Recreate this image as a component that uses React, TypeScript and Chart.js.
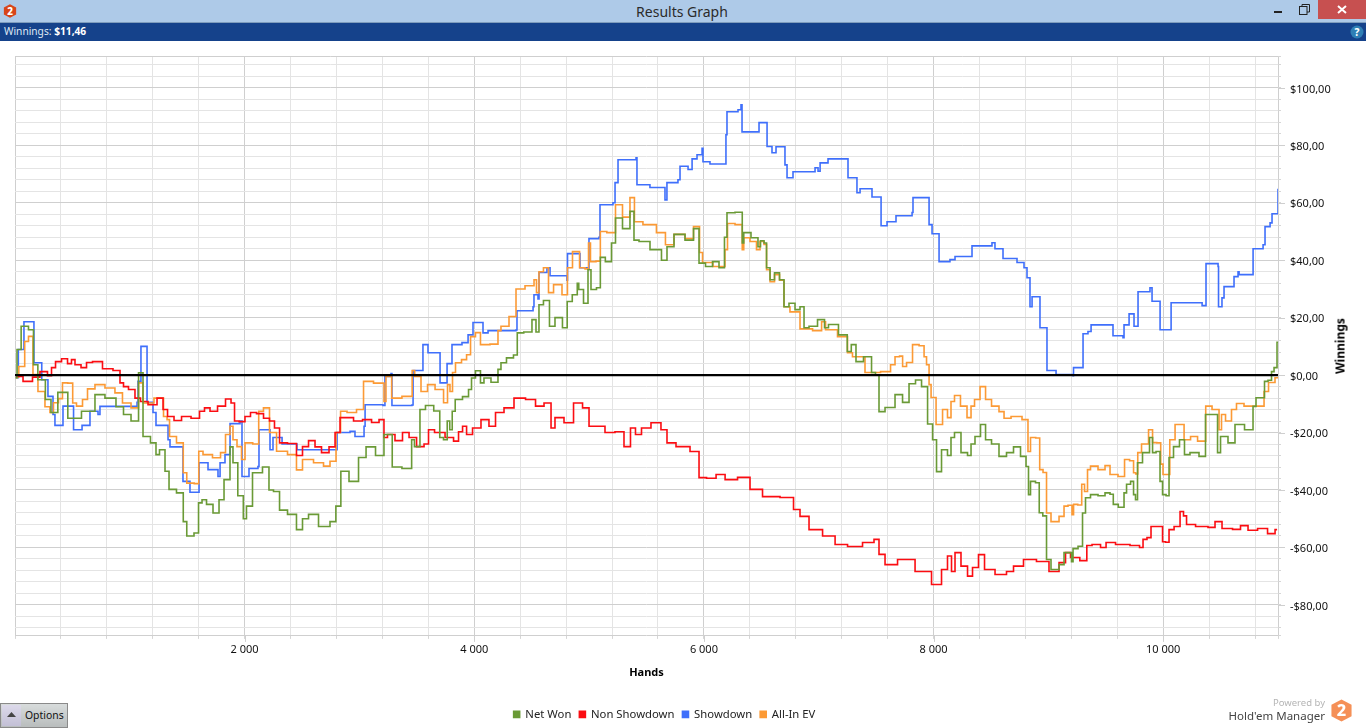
import React, { useEffect, useRef } from "react";
import { Chart, registerables } from "chart.js";

Chart.register(...registerables);

type Pt = [number, number];

// [hand number, winnings in dollars] at each corner of the running total
const netWon: Pt[] = [
  [6,-0.9],[29,8.9],[78,17],[157,15.8],[165,3.6],[233,-1.6],[296,-8.5],[331,-13],[415,-6],[505,-15],[653,-12.6],[740,-6.8],[827,-8],[932,-11],[958,-13.7],[1063,-16],[1089,0.8],[1141,-21.4],[1219,-23.6],[1237,-27.7],[1280,-26],[1333,-33.5],[1350,-39.8],[1463,-41],[1468,-51],[1524,-56],[1594,-55],[1603,-44.5],[1655,-43.4],[1681,-45],[1768,-48],[1786,-43.4],[1855,-36.4],[1890,-25],[1907,-30.5],[1974,-42],[2003,-50],[2029,-45.6],[2108,-34],[2203,-32],[2221,-40],[2282,-40.5],[2326,-47],[2421,-48.5],[2482,-53.8],[2526,-50],[2587,-48.5],[2700,-52.7],[2787,-51],[2802,-45.6],[2874,-33.5],[2944,-37],[3040,-28.7],[3075,-25],[3205,-28],[3222,-20.7],[3283,-20.7],[3288,-32],[3452,-32.5],[3457,-22.5],[3501,-24.9],[3553,-12],[3597,-10.6],[3697,-12.5],[3702,-21.7],[3762,-22.5],[3767,-16],[3806,-19],[3810,-12.6],[3858,-8.5],[3937,-7.5],[3963,-5],[3989,-1],[4032,1.5],[4076,-2.7],[4093,-1],[4198,-2.5],[4215,2],[4250,4.3],[4311,6],[4372,7],[4377,14.7],[4485,15],[4520,19.3],[4555,15],[4572,24.5],[4633,26],[4677,17],[4729,20],[4807,16.5],[4812,25.6],[4895,28],[4899,32],[4921,29.8],[4982,25],[4999,36.7],[5034,29.8],[5095,30.4],[5101,41],[5182,39.5],[5208,46],[5252,54.7],[5330,51],[5382,57],[5400,47],[5470,46.5],[5591,43.7],[5670,40],[5687,44.7],[5792,49],[5879,47],[5940,51],[5975,39],[6053,37.8],[6097,39.5],[6166,37.4],[6192,48],[6210,56.5],[6332,56.7],[6336,46],[6358,49.6],[6462,47.8],[6480,44.7],[6506,46.8],[6541,46],[6550,37.4],[6602,33.2],[6628,35.6],[6689,33.2],[6706,23.8],[6776,25],[6811,22.8],[6863,23.8],[6881,16.5],[6950,17],[7029,19.3],[7072,16.5],[7098,17.6],[7246,14],[7251,8.2],[7316,10.6],[7333,4.7],[7447,6.4],[7473,0.9],[7516,0],[7534,-12.7],[7621,-11.3],[7708,-6.8],[7752,-9.5],[7821,-3],[7865,-1.7],[7926,-4],[7970,-17],[8013,-22.5],[8039,-33.6],[8100,-26],[8143,-28],[8161,-21.7],[8204,-20],[8274,-27],[8318,-28],[8335,-24],[8387,-21.4],[8431,-17.2],[8475,-22.5],[8535,-24],[8605,-28.3],[8666,-27],[8727,-25],[8788,-28.3],[8823,-31.8],[8831,-41.6],[8858,-37],[8918,-37.5],[8923,-47.9],[8980,-49],[8988,-64.2],[9058,-67.7],[9128,-66],[9145,-61.8],[9197,-61.8],[9206,-65],[9224,-60.4],[9293,-59.6],[9302,-48],[9345,-42.7],[9389,-41.6],[9476,-42],[9511,-41],[9563,-41.5],[9568,-45],[9650,-46],[9668,-41],[9694,-38],[9738,-37],[9746,-41.6],[9772,-43.4],[9781,-30.5],[9859,-27],[9903,-21.7],[9912,-27],[9964,-26.6],[9981,-37],[10008,-41.6],[10042,-42],[10060,-28.7],[10120,-24.9],[10164,-22.5],[10207,-27.7],[10260,-27],[10364,-28.3],[10373,-13.7],[10469,-13.7],[10478,-27],[10521,-21.4],[10608,-23.6],[10643,-17.2],[10774,-19],[10791,-10.9],[10826,-7.9],[10878,-7.9],[10887,-2.2],[10939,-1.8],[10948,1.2],[10983,2.6],[11000,11.46],
];

const nonShowdown: Pt[] = [
  [9,-0.5],[131,-2.2],[174,-0.7],[261,1.2],[305,-0.2],[331,2.6],[375,4.7],[436,5.7],[479,4],[505,5.4],[540,3.6],[610,2.6],[636,4.4],[714,4.7],[810,2.2],[897,1.6],[932,-2.7],[958,-4],[1019,-5],[1071,-8],[1115,-9.2],[1202,-10.3],[1272,-8],[1307,-12],[1350,-14.4],[1420,-15.8],[1481,-14.4],[1585,-15],[1629,-12.6],[1672,-11.4],[1725,-12.6],[1803,-10.8],[1864,-8.3],[1899,-9.7],[1925,-16],[1977,-16.2],[2029,-14.4],[2073,-13],[2134,-13.4],[2195,-15],[2238,-16],[2282,-18.4],[2326,-23.6],[2421,-23.8],[2482,-28],[2526,-24.9],[2587,-22.8],[2639,-25],[2700,-27],[2770,-25],[2805,-20],[2857,-14.8],[2918,-14.8],[2979,-16],[3075,-15.5],[3136,-16.5],[3205,-15.5],[3222,-21.7],[3266,-20.7],[3353,-22.8],[3397,-20],[3467,-21.7],[3528,-24.9],[3597,-24],[3606,-19],[3702,-20],[3789,-21.7],[3850,-23],[3876,-19.7],[3920,-17.8],[3946,-20.7],[4024,-18.4],[4093,-15.5],[4163,-17.8],[4207,-13],[4311,-11.4],[4381,-8],[4512,-8.5],[4555,-10.8],[4660,-9.7],[4677,-18.4],[4729,-14.8],[4834,-16.6],[4895,-9.7],[4991,-11.4],[5008,-17.8],[5095,-17.8],[5182,-20],[5269,-19.7],[5339,-24.9],[5382,-18.4],[5426,-20.7],[5487,-18.4],[5591,-16.6],[5661,-19],[5696,-23.6],[5818,-24.9],[5940,-26.6],[5975,-35.7],[6071,-35.9],[6141,-34.6],[6228,-36.4],[6358,-35.6],[6445,-39.8],[6576,-42.3],[6750,-42.6],[6811,-46.8],[6863,-49.2],[6968,-53.8],[7099,-56],[7186,-59],[7316,-59.7],[7447,-58.3],[7516,-57.2],[7534,-62.4],[7621,-66],[7752,-64.2],[7926,-68.4],[8039,-72.9],[8100,-67.7],[8143,-63],[8170,-68.4],[8204,-61.8],[8274,-66.5],[8318,-70],[8361,-67],[8422,-62.5],[8466,-67.7],[8605,-69.4],[8666,-68.4],[8727,-66.5],[8840,-64.2],[8953,-64.9],[9058,-68.4],[9128,-65.3],[9171,-61.8],[9215,-63.5],[9333,-64.6],[9337,-59.3],[9424,-59],[9485,-60],[9520,-58.3],[9650,-59],[9772,-59.3],[9816,-60],[9833,-57.2],[9885,-56.6],[9903,-52.7],[9990,-52.7],[9999,-58],[10042,-58.2],[10060,-53.8],[10130,-52.7],[10164,-47.5],[10190,-49],[10217,-52],[10347,-52.7],[10434,-53],[10469,-51],[10556,-53.4],[10652,-53.7],[10695,-52.4],[10783,-54],[10861,-53.4],[10957,-55.2],[10992,-53.8],
];

const showdown: Pt[] = [
  [6,-0.9],[29,8.9],[78,18.6],[165,4.3],[233,-1.6],[287,-7.4],[331,-13.7],[348,-17.5],[418,-10.8],[510,-19],[584,-17.5],[653,-12.6],[723,-13.7],[740,-10.9],[1063,-9.5],[1071,-2.2],[1097,10],[1150,-9.5],[1202,-13],[1228,-17.5],[1333,-22.5],[1350,-25],[1463,-37],[1524,-40.8],[1603,-30.5],[1681,-32.9],[1768,-35.3],[1786,-30.5],[1829,-27.7],[1873,-16.9],[1960,-16],[1977,-35.3],[2038,-32.5],[2116,-31.8],[2125,-19],[2221,-26],[2247,-21.7],[2326,-24],[2456,-26],[2805,-20],[2918,-19.6],[2961,-21.4],[3040,-17.8],[3049,-10.3],[3205,-10.6],[3222,-0.5],[3275,0.5],[3283,-10.6],[3457,-10.4],[3467,1.6],[3553,10.6],[3597,7.8],[3702,-2.7],[3763,4],[3806,10.6],[3893,11.3],[3946,14],[3989,18.3],[4076,14.7],[4120,15.5],[4363,15.7],[4372,22.4],[4512,23.8],[4520,28],[4555,26.5],[4564,35.7],[4633,37.4],[4660,34.6],[4807,33],[4812,42.3],[4921,37.4],[4991,37],[4999,47.5],[5086,48],[5095,59.3],[5208,60],[5226,67],[5252,75],[5409,75.7],[5417,66.3],[5530,65.3],[5661,61],[5678,67],[5774,68],[5792,72.7],[5862,71.6],[5897,75.3],[5940,76.7],[5984,79],[5992,74.3],[6053,73.5],[6192,83.7],[6201,91.7],[6297,92.4],[6323,94.1],[6332,84.7],[6480,87.9],[6550,79.6],[6593,77.4],[6628,79.5],[6706,73.2],[6724,68.7],[6776,70.8],[6968,72.2],[6994,71],[7012,73.9],[7081,75.3],[7255,68.7],[7333,63.5],[7360,64.9],[7464,62],[7543,52],[7595,53.4],[7673,55.5],[7813,56.6],[7821,61.8],[7961,52.4],[7987,49.2],[8048,39.5],[8143,40.2],[8187,41.3],[8335,45],[8509,46.1],[8535,44],[8605,40.6],[8727,39.2],[8788,37.4],[8814,33.9],[8840,23.8],[8858,27.3],[8927,16.5],[8988,1.6],[9067,0.2],[9215,-0.2],[9219,2.6],[9302,14.4],[9345,15.2],[9372,17.5],[9563,13.7],[9650,13],[9659,17.5],[9703,21.3],[9746,17],[9781,29],[9885,30.4],[9903,25.7],[9973,15.8],[10069,25.2],[10339,24.2],[10373,38.8],[10478,37.8],[10482,23.8],[10512,26.9],[10530,30.8],[10617,34.3],[10652,36],[10661,35],[10783,44],[10870,45.4],[10887,51.7],[10931,53],[10948,56.2],[11000,64.9],
];

const allInEv: Pt[] = [
  [6,-0.9],[30,-0.6],[35,3],[82,3],[87,11.7],[148,13.5],[165,0.2],[235,-5.7],[287,-11],[322,-13],[348,-9.6],[409,-8.2],[418,-2.7],[500,-2.8],[505,-9.7],[566,-10.8],[610,-8.5],[653,-4.8],[740,-3.3],[827,-4.5],[914,-6.2],[958,-9.7],[1063,-11.4],[1089,-2.7],[1141,-9.7],[1280,-8],[1307,-14.4],[1342,-15.5],[1350,-21.4],[1463,-23.6],[1468,-34],[1524,-37.6],[1598,-37.8],[1603,-26.5],[1672,-27.7],[1768,-28.8],[1812,-27],[1855,-20.7],[1890,-17.8],[1907,-22.5],[1960,-24.9],[1986,-29.4],[2021,-23.6],[2120,-24],[2125,-12.6],[2203,-11.4],[2230,-20],[2326,-26.5],[2421,-27.7],[2482,-33],[2526,-29.4],[2674,-30.5],[2700,-31.7],[2787,-30],[2805,-20],[2866,-12.6],[2918,-13],[3031,-12],[3040,-2.2],[3205,-2.8],[3222,-9.2],[3240,-0.5],[3278,-0.5],[3283,-8],[3457,-7.4],[3461,1.6],[3501,-0.5],[3571,-5.7],[3615,-3.3],[3702,-5],[3763,-9.6],[3771,-3.3],[3806,-5.7],[3815,0.9],[3858,4.3],[3920,5.4],[3946,7.1],[3989,13.4],[4032,14.8],[4076,10.6],[4198,10.8],[4215,15.5],[4250,17],[4355,20.4],[4372,30],[4512,31.1],[4529,33.2],[4555,28.7],[4572,36],[4633,37.4],[4660,28.7],[4721,31.5],[4807,28],[4816,37.4],[4895,43],[4939,37.4],[4991,37],[4999,46],[5025,39.5],[5095,39.7],[5101,50],[5208,49.6],[5252,59.3],[5330,55],[5382,61.8],[5408,53.4],[5530,52.4],[5643,49.6],[5687,45.4],[5792,49],[5879,47.5],[5940,51.7],[5984,42.7],[5992,39.2],[6166,37.8],[6201,43.7],[6210,52.8],[6332,52.4],[6336,43.7],[6358,47.8],[6445,46.5],[6471,43.7],[6506,46.5],[6541,45.5],[6550,36.7],[6602,32.5],[6628,35],[6689,33],[6706,23.8],[6793,22],[6881,16.1],[7012,15.5],[7038,18.6],[7081,15.8],[7246,13.4],[7255,7.8],[7333,6.4],[7473,0.9],[7604,1.2],[7647,3.6],[7682,6.4],[7726,6.6],[7735,3],[7795,4.4],[7839,10.6],[7909,10.2],[7926,6.4],[7952,3.6],[7970,-3.3],[7987,-7.8],[8057,-17.2],[8100,-12],[8143,-14.8],[8161,-9.2],[8204,-7.1],[8265,-10.8],[8318,-14.8],[8335,-10.8],[8379,-8.5],[8431,-4],[8475,-8.5],[8535,-10.8],[8605,-12.7],[8623,-15],[8727,-14.4],[8814,-15.5],[8831,-26.6],[8858,-21.7],[8922,-21.9],[8927,-32.9],[8980,-33.9],[8988,-48],[9058,-51],[9128,-49.2],[9145,-45.6],[9197,-45.3],[9215,-48.6],[9224,-45],[9288,-45.2],[9293,-38],[9337,-40.5],[9345,-32.9],[9389,-31.7],[9476,-32.9],[9511,-31.5],[9563,-34.6],[9650,-35.3],[9677,-29.4],[9738,-29.8],[9746,-34],[9776,-34.4],[9781,-27],[9842,-24],[9903,-19],[9912,-23.5],[9976,-23.6],[9981,-31],[10016,-34.6],[10055,-34.6],[10060,-22.5],[10147,-17.2],[10217,-22.5],[10260,-21.4],[10339,-23],[10368,-23],[10373,-10.8],[10478,-12],[10495,-19],[10521,-13.7],[10565,-16],[10625,-12],[10652,-9.9],[10756,-10.8],[10870,-10.8],[10887,-5.7],[10948,-2.6],[11000,-0.9],
];

const handsRange = [0, 11000];
const winningsRange = [-90.8, 111.1];
const handsStep = 400;
const handsLabelStep = 2000;
const winningsStep = 4;
const winningsLabelStep = 20;

const UI_FONT = '"Noto Sans", "Open Sans", sans-serif';

const toXY = (pts: Pt[]) => pts.map(([x, y]) => ({ x, y }));
const stepsBetween = (lo: number, hi: number, step: number) => {
  const out: number[] = [lo];
  for (let v = Math.ceil(lo / step) * step; v < hi; v += step) if (v > lo) out.push(v);
  out.push(hi);
  return out;
};
const formatHands = (v: number) => String(v).replace(/\B(?=(\d{3})+$)/g, " ");
const formatWinnings = (v: number) => `${v < 0 ? "-" : ""}$${Math.abs(v)},00`;

const majorTickExtension = {
  id: "majorTickExtension",
  beforeDatasetsDraw(chart: any) {
    const { ctx, scales } = chart;
    ctx.save();
    ctx.strokeStyle = "#cfcfcf";
    ctx.lineWidth = 1;
    ctx.beginPath();
    for (const v of [...Array(6).keys()].map((i) => (i + 1) * handsLabelStep)) {
      if (v >= handsRange[1]) continue;
      const px = Math.round(scales.x.getPixelForValue(v)) + 0.5;
      ctx.moveTo(px, scales.x.top);
      ctx.lineTo(px, scales.x.top + 6);
    }
    for (let v = -80; v <= 100; v += winningsLabelStep) {
      const py = Math.round(scales.y.getPixelForValue(v)) + 0.5;
      ctx.moveTo(scales.y.left, py);
      ctx.lineTo(scales.y.left + 7, py);
    }
    ctx.stroke();
    ctx.restore();
  },
};

// The legend sits a little left of the page centre and low in its strip.
const legendPlacement = {
  id: "legendPlacement",
  afterLayout(chart: any) {
    const l = chart.legend;
    if (!l) return;
    l.left -= 26; l.right -= 26; l.top += 2; l.bottom += 2;
  },
};

const Hex = ({ size, fill, digit }: { size: number; fill: string; digit: string }) => (
  <svg width={size} height={size} viewBox="0 0 24 24" style={{ display: "block" }}>
    <polygon points="12,0.5 22.5,6 22.5,18 12,23.5 1.5,18 1.5,6" fill={fill} />
    <text x="12" y="18" textAnchor="middle" fontFamily={UI_FONT} fontWeight="800" fontSize="17" fill="#fff">{digit}</text>
  </svg>
);

const abs = (left: number, top: number, extra: React.CSSProperties = {}): React.CSSProperties => ({
  position: "absolute", left, top, ...extra,
});

export default function App() {
  const ref = useRef<HTMLCanvasElement>(null);

  useEffect(() => {
    const series = (label: string, pts: Pt[], color: string, order: number, stepped: any) => ({
      label, data: toXY(pts), borderColor: color, backgroundColor: color, order,
      borderWidth: 1.6, pointRadius: 0, stepped, fill: false, borderJoinStyle: "miter" as const,
    });
    const chart = new Chart(ref.current!, {
      type: "line",
      data: {
        datasets: [
          series("Net Won", netWon, "#6a9a36", 1, "middle"),
          series("Non Showdown", nonShowdown, "#fb0d12", 2, "middle"),
          series("Showdown", showdown, "#3f6ffb", 4, "before"),
          series("All-In EV", allInEv, "#fc9a35", 3, "middle"),
          {
            label: "zero",
            data: toXY([[handsRange[0], 0], [handsRange[1], 0]]),
            borderColor: "#000", borderWidth: 2.4, pointRadius: 0, order: 0,
          },
        ],
      },
      options: {
        animation: false,
        responsive: false,
        devicePixelRatio: 1,
        layout: { padding: { left: 15, top: 56, right: 0, bottom: 0 } },
        scales: {
          x: {
            type: "linear",
            min: handsRange[0],
            max: handsRange[1],
            afterBuildTicks: (s: any) => {
              s.ticks = stepsBetween(handsRange[0], handsRange[1], handsStep).map((value) => ({ value }));
            },
            afterFit: (s: any) => { s.height = 62.8; },
            grid: {
              color: (c: any) => (c.tick && (c.tick.value % handsLabelStep === 0 || c.tick.value === handsRange[1]) ? "#cfcfcf" : "#e4e4e4"),
              tickColor: "#d6d6d6",
              tickLength: 3,
            },
            border: { display: false },
            ticks: {
              autoSkip: false, maxRotation: 0, minRotation: 0, padding: 4,
              color: "#111", font: { family: UI_FONT, size: 11 },
              callback: (v: any) => (v > 0 && v % handsLabelStep === 0 && v < handsRange[1] ? formatHands(v) : ""),
            },
            title: {
              display: true, text: "Hands", color: "#000",
              font: { family: UI_FONT, size: 11, weight: "bold" },
              padding: { top: 0, bottom: 19 },
            },
          },
          y: {
            type: "linear",
            position: "right",
            min: winningsRange[0],
            max: winningsRange[1],
            afterBuildTicks: (s: any) => {
              s.ticks = stepsBetween(winningsRange[0], winningsRange[1], winningsStep).map((value) => ({ value }));
            },
            afterFit: (s: any) => { s.width = 88; },
            grid: {
              color: (c: any) => (c.tick && (c.tick.value % winningsLabelStep === 0 || c.tick.value === winningsRange[0] || c.tick.value === winningsRange[1]) ? "#cfcfcf" : "#e4e4e4"),
              tickColor: "#d6d6d6",
              tickLength: 3,
            },
            border: { display: false },
            ticks: {
              autoSkip: false, padding: 9, crossAlign: "near", labelOffset: 1.5,
              color: "#111", font: { family: UI_FONT, size: 11 },
              callback: (v: any) => (Number.isInteger(v) && v % winningsLabelStep === 0 ? formatWinnings(v) : ""),
            },
          },
        },
        plugins: {
          title: { display: false },
          tooltip: { enabled: false },
          legend: {
            position: "bottom",
            labels: {
              boxWidth: 6, boxHeight: 6, padding: 8, color: "#222",
              font: { family: UI_FONT, size: 11.3 },
              filter: (item: any) => item.text !== "zero",
              sort: (a: any, b: any) => a.datasetIndex - b.datasetIndex,
            },
          },
        },
      },
      plugins: [majorTickExtension, legendPlacement],
    } as any);
    return () => chart.destroy();
  }, []);

  return (
    <div style={{ position: "fixed", left: 0, top: 0, width: 1366, height: 728, background: "#fff", overflow: "hidden", fontFamily: UI_FONT }}>
      <canvas ref={ref} width={1366} height={728} style={{ position: "absolute", left: 0, top: 0 }} />

      <div style={abs(0, 0, { width: 1366, height: 22, background: "#aecae8", borderBottom: "1px solid #7f9dbd" })} />
      <div style={abs(3, 4)}><Hex size={14} fill="#d8451a" digit="2" /></div>
      <div style={abs(0, 3, { width: 1364, textAlign: "center", fontSize: 14, color: "#2b2b2b", lineHeight: "18px" })}>Results Graph</div>
      <div style={abs(1274, 11, { width: 8, height: 2, background: "#222" })} />
      <svg style={abs(1299, 4)} width={11} height={11} viewBox="0 0 11 11">
        <rect x="0.5" y="2.5" width="7.5" height="8" fill="none" stroke="#222" />
        <path d="M3 2.5 V0.5 H10.5 V8 H8" fill="none" stroke="#222" />
      </svg>
      <div style={abs(1318, 0, { width: 48, height: 19, background: "#c75050" })} />
      <svg style={abs(1337, 5)} width={10} height={9} viewBox="0 0 10 9">
        <path d="M1 1 L9 8 M9 1 L1 8" stroke="#fff" strokeWidth="2" />
      </svg>

      <div style={abs(0, 23, { width: 1366, height: 18, background: "#15428b" })} />
      <div style={abs(4, 24, { fontSize: 10.2, lineHeight: "15px", color: "#dfe8f4" })}>
        Winnings: <span style={{ fontWeight: 700, color: "#fff" }}>$11,46</span>
      </div>
      <svg style={abs(1350, 25)} width={14} height={14} viewBox="0 0 14 14">
        <circle cx="7" cy="7" r="6.5" fill="#2f7fb5" />
        <text x="7" y="11" textAnchor="middle" fontFamily={UI_FONT} fontWeight="800" fontSize="10" fill="#fff">?</text>
      </svg>

      <div style={abs(1340, 346, { transform: "translate(-50%, -50%) rotate(-90deg)", fontSize: 12, fontWeight: 700, color: "#000", whiteSpace: "nowrap" })}>Winnings</div>

      <div style={abs(0, 703, { width: 68, height: 25, boxSizing: "border-box", border: "1px solid #8a8a8a", background: "linear-gradient(#d8dcdc,#b9bdbd)" })}>
        <div style={abs(1, 1, { width: 19, height: 21, background: "linear-gradient(#dcd9ea,#c3c0d6)" })} />
        <svg style={abs(6, 8)} width={9} height={5} viewBox="0 0 9 5"><polygon points="0,5 9,5 4.5,0" fill="#444" /></svg>
        <div style={abs(24, 3, { fontSize: 10.4, lineHeight: "16px", color: "#111" })}>Options</div>
      </div>

      <div style={abs(1230, 697, { width: 95, textAlign: "right", fontSize: 9.5, lineHeight: "12px", color: "#b5b5b5" })}>Powered by</div>
      <div style={abs(1200, 708, { width: 125, textAlign: "right", fontSize: 11.5, lineHeight: "15px", color: "#444" })}>Hold'em Manager</div>
      <div style={abs(1330, 699)}><Hex size={23} fill="#f59057" digit="2" /></div>
    </div>
  );
}
